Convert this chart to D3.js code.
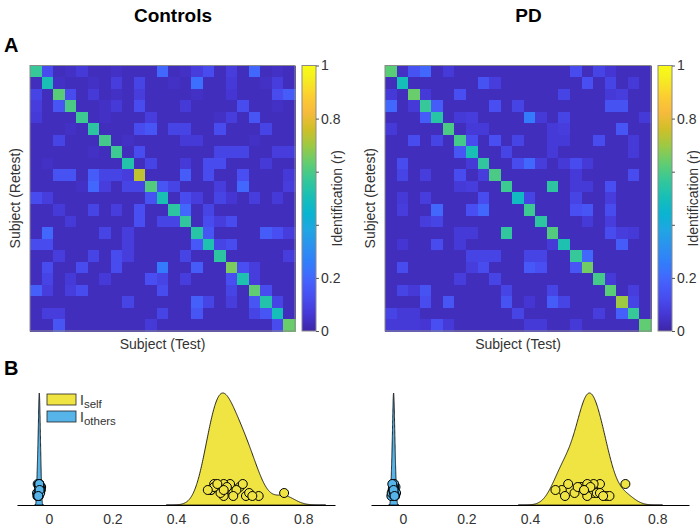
<!DOCTYPE html>
<html>
<head>
<meta charset="utf-8">
<script src="https://cdn.jsdelivr.net/npm/d3@7/dist/d3.min.js"></script>
<style>
body { margin: 0; background: #fff; }
svg text { font-family: "Liberation Sans", Arial, sans-serif; }
</style>
</head>
<body>
<div id="chart"></div>
<script>
// identification matrices, r in hundredths (rows = retest, cols = test)
var ctrlMatrix = [
  [57,12,3,4,7,3,3,4,3,3,3,20,3,4,8,12,3,8,3,20,3,4,3],
  [3,51,4,3,3,4,3,8,3,10,3,3,4,3,22,3,3,7,3,3,4,8,3],
  [10,3,62,12,3,7,3,4,3,8,3,3,3,3,4,3,3,6,3,3,3,12,17],
  [8,3,15,60,3,3,4,7,3,12,3,3,3,7,3,3,3,3,12,3,3,4,3],
  [7,3,3,3,58,3,4,3,3,3,8,3,3,3,3,3,4,8,3,15,3,3,3],
  [3,3,3,4,3,55,3,3,3,12,15,3,10,10,3,3,12,3,3,3,10,3,3],
  [3,3,10,3,3,3,59,3,4,3,3,3,3,7,7,3,3,3,3,4,3,3,3],
  [3,3,3,3,3,4,3,58,3,12,3,3,3,3,3,3,10,10,10,3,3,8,8],
  [3,4,3,3,3,3,3,3,53,3,10,3,3,7,3,12,12,3,3,3,7,3,3],
  [3,3,14,14,3,17,10,10,8,74,3,3,3,17,3,12,3,3,13,3,3,3,7],
  [3,3,3,3,4,20,8,3,10,10,61,15,10,3,3,3,8,3,20,3,3,3,8],
  [12,8,3,3,3,3,3,3,3,3,14,51,3,12,8,3,10,6,3,8,3,7,3],
  [3,3,7,3,3,10,3,8,3,13,3,3,55,20,3,10,3,3,3,3,3,3,3],
  [3,3,3,7,3,3,3,3,3,13,3,10,10,56,3,12,8,12,3,3,3,3,3],
  [3,20,3,3,3,3,10,3,8,3,3,3,3,3,54,15,3,3,3,3,17,13,8],
  [12,12,3,3,3,3,3,3,8,3,3,3,3,3,16,52,10,12,3,3,3,3,3],
  [3,3,8,3,3,10,3,12,8,3,3,3,3,10,3,3,55,3,3,3,3,3,8],
  [3,12,3,3,12,3,3,12,3,3,3,25,3,3,17,3,3,66,13,8,3,3,3],
  [3,10,3,7,3,3,7,3,3,3,13,10,3,8,3,3,3,13,52,8,3,3,3],
  [18,8,3,8,12,3,3,3,3,3,3,12,3,3,3,3,3,10,3,63,12,3,3],
  [3,3,3,3,3,3,3,3,10,3,3,3,3,3,18,10,3,8,3,15,53,10,3],
  [3,8,8,3,3,3,3,3,3,3,3,10,3,3,15,3,3,3,3,10,15,50,3],
  [3,3,15,3,3,3,3,3,3,3,7,3,3,3,3,3,3,3,3,3,3,12,64]
];

var pdMatrix = [
  [62,4,14,20,3,7,3,3,3,3,3,3,3,3,3,3,12,3,10,6,3,3,3],
  [3,50,3,3,3,3,3,3,14,8,3,3,3,3,3,3,3,13,3,10,3,7,3],
  [7,3,64,7,3,3,13,3,3,3,3,3,3,3,3,10,3,3,3,7,8,3,3],
  [20,3,7,57,17,3,3,3,3,13,3,10,3,3,3,3,3,3,3,14,14,3,3],
  [3,3,3,17,54,3,7,8,3,3,3,3,25,7,3,10,3,3,3,3,3,3,7],
  [7,3,3,3,3,60,3,7,7,3,3,3,3,3,7,8,3,3,3,3,15,3,3],
  [3,3,12,3,10,3,59,12,3,13,3,10,3,3,7,7,3,3,12,3,3,7,3],
  [3,3,3,3,3,3,15,51,3,3,10,3,3,3,7,3,3,3,3,3,3,7,3],
  [3,12,3,3,3,3,3,7,56,3,3,12,20,8,3,7,12,7,3,3,3,3,3],
  [3,10,3,8,3,3,12,3,8,60,3,3,3,3,3,3,7,3,3,3,3,12,3],
  [3,3,3,3,3,3,7,8,3,3,58,3,3,3,55,3,7,7,3,13,3,3,3],
  [3,7,3,8,3,3,3,3,12,3,3,48,10,3,3,3,10,3,3,8,3,3,3],
  [3,8,3,3,20,3,3,13,20,3,3,3,58,3,3,3,13,15,3,12,3,3,3],
  [3,3,3,8,10,3,3,3,3,3,3,3,3,55,3,3,3,7,3,8,3,3,3],
  [3,3,3,3,3,3,7,7,3,3,56,3,3,3,61,3,3,3,3,12,8,7,3],
  [3,6,3,3,12,3,7,3,3,3,3,3,3,3,7,52,3,3,3,3,17,3,3],
  [3,3,3,3,3,3,3,10,10,10,3,3,10,10,3,3,57,20,3,3,3,3,3],
  [3,12,3,3,3,3,3,8,12,3,3,3,16,13,3,3,15,65,3,3,3,3,3],
  [3,3,3,3,3,3,8,3,3,10,3,3,3,3,3,3,3,3,59,7,3,3,3],
  [3,10,7,14,3,3,3,3,3,3,10,3,3,3,10,3,3,3,3,62,3,8,3],
  [3,3,3,12,3,15,3,3,3,3,14,3,6,3,17,10,3,3,3,3,70,10,3],
  [10,7,7,3,3,3,3,3,3,3,3,10,3,3,3,3,3,3,8,3,18,57,3],
  [7,7,7,6,13,7,3,3,3,3,3,3,7,7,3,3,7,3,3,3,3,3,63]
];

// I_others per subject
var othersControls = [-0.035,-0.027,-0.031,-0.024,-0.037,-0.030,-0.028,-0.033,-0.026,-0.031,-0.030,-0.025,
                      -0.036,-0.029,-0.032,-0.030,-0.028,-0.034,-0.031,-0.027,-0.030,-0.029,-0.033];
var othersPD = [-0.030,-0.025,-0.034,-0.023,-0.029,-0.031,-0.027,-0.036,-0.028,-0.021,-0.030,-0.032,
                -0.026,-0.029,-0.035,-0.027,-0.031,-0.024,-0.030,-0.028,-0.033,-0.029,-0.026];

var groups = ["Controls", "PD"];
var cbarTicks = [0, 0.2, 0.4, 0.6, 0.8, 1];
var cbarTickLabels = ["0", "0.2", "", "", "0.8", "1"];
var densTicks = [0, 0.2, 0.4, 0.6, 0.8];

// parula (every 4th of the 64 entries)
var parulaStops = ["#3e26a8","#4537d5","#484df0","#4563fd","#327cfc","#2b91ef","#20a5e3","#08b5d0",
                   "#18bfb6","#37c897","#64cd6f","#9dc943","#d1bf27","#f8ba3d","#fccf30","#f5ef20","#f9fb15"];
var color = d3.scaleLinear()
    .domain(parulaStops.map(function (c, i) { return Math.min(1, i * 4 / 63); }))
    .range(parulaStops)
    .clamp(true);

var yellow = "#f0e442", blue = "#56b4e9", grey = "#333";

var svg = d3.select("#chart").append("svg")
    .attr("width", 700)
    .attr("height", 529);

var panels = [
    { name: groups[0], m: ctrlMatrix, others: othersControls, hx: [30, 295], cb: 302, dx: [17, 335] },
    { name: groups[1], m: pdMatrix, others: othersPD, hx: [385, 651], cb: 658, dx: [371, 689] }
];
var hy = [65.5, 331];

svg.append("text").attr("x", 4).attr("y", 52).attr("font-size", 20).attr("font-weight", "bold").text("A");
svg.append("text").attr("x", 4).attr("y", 375).attr("font-size", 20).attr("font-weight", "bold").text("B");

panels.forEach(function (p, pi) {
    var n = p.m.length;
    var idx = d3.range(n);
    var x = d3.scaleBand().domain(idx).range(p.hx);
    var y = d3.scaleBand().domain(idx).range(hy);

    svg.append("text")
        .attr("x", (p.hx[0] + p.cb + 14) / 2)
        .attr("y", 22)
        .attr("text-anchor", "middle")
        .attr("font-size", 19)
        .attr("font-weight", "bold")
        .text(p.name);

    var cells = [];
    p.m.forEach(function (row, i) {
        row.forEach(function (v, j) { cells.push({ i: i, j: j, v: v / 100 }); });
    });

    svg.append("g")
        .attr("shape-rendering", "crispEdges")
        .selectAll("rect")
        .data(cells)
        .enter()
        .append("rect")
        .attr("x", function (d) { return x(d.j); })
        .attr("y", function (d) { return y(d.i); })
        .attr("width", x.bandwidth() + 0.5)
        .attr("height", y.bandwidth() + 0.5)
        .attr("fill", function (d) { return color(d.v); });

    svg.append("rect")
        .attr("x", p.hx[0]).attr("y", hy[0])
        .attr("width", p.hx[1] - p.hx[0]).attr("height", hy[1] - hy[0])
        .attr("fill", "none").attr("stroke", "#8a8a8a").attr("stroke-width", 1);

    svg.append("text")
        .attr("transform", "translate(" + (p.hx[0] - 10) + "," + ((hy[0] + hy[1]) / 2) + ") rotate(-90)")
        .attr("text-anchor", "middle")
        .attr("font-size", 14)
        .attr("fill", grey)
        .text("Subject (Retest)");

    svg.append("text")
        .attr("x", (p.hx[0] + p.hx[1]) / 2)
        .attr("y", hy[1] + 18)
        .attr("text-anchor", "middle")
        .attr("font-size", 14)
        .attr("fill", grey)
        .text("Subject (Test)");

    // colorbar
    var cw = 14;
    var grad = svg.append("defs").append("linearGradient")
        .attr("id", "cb" + pi)
        .attr("x1", 0).attr("y1", 1).attr("x2", 0).attr("y2", 0);
    d3.range(0, 1.0001, 0.02).forEach(function (t) {
        grad.append("stop").attr("offset", t).attr("stop-color", color(t));
    });
    svg.append("rect")
        .attr("x", p.cb).attr("y", hy[0])
        .attr("width", cw).attr("height", hy[1] - hy[0])
        .attr("fill", "url(#cb" + pi + ")")
        .attr("stroke", "#8a8a8a").attr("stroke-width", 1);

    var cy = d3.scaleLinear().domain([0, 1]).range([hy[1], hy[0]]);
    var cax = svg.append("g")
        .attr("transform", "translate(" + (p.cb + cw) + ",0)")
        .call(d3.axisRight(cy)
            .tickValues(cbarTicks)
            .tickSize(3)
            .tickPadding(2)
            .tickFormat(function (d, i) { return cbarTickLabels[i]; }));
    cax.select(".domain").remove();
    cax.selectAll("line").attr("stroke", "#555");
    cax.selectAll("text").attr("font-size", 14).attr("fill", grey)
        .attr("font-family", "Liberation Sans, Arial, sans-serif");

    svg.append("text")
        .attr("transform", "translate(" + (p.cb + cw + 26) + "," + cy(0.5) + ") rotate(-90)")
        .attr("text-anchor", "middle")
        .attr("font-size", 14)
        .attr("fill", grey)
        .text("Identification (r)");

    // density panel
    var dx = d3.scaleLinear().domain([-0.1, 0.9]).range(p.dx);
    var base = 505, top = 393;
    var self = p.m.map(function (row, i) { return row[i] / 100; });

    var kde = function (vals) {
        var sd = d3.deviation(vals);
        var bw = 1.06 * sd * Math.pow(vals.length, -0.2);
        var lo = d3.min(vals) - 4 * bw, hi = d3.max(vals) + 4 * bw;
        var step = (hi - lo) / 400;
        return d3.range(lo, hi + step / 2, step).map(function (t) {
            var s = d3.sum(vals, function (v) {
                var z = (t - v) / bw;
                return Math.exp(-0.5 * z * z);
            });
            return [t, s / (vals.length * bw * Math.sqrt(2 * Math.PI))];
        });
    };

    [[p.others, blue], [self, yellow]].forEach(function (s) {
        var curve = kde(s[0]);
        var dy = d3.scaleLinear().domain([0, d3.max(curve, function (d) { return d[1]; })]).range([base, top]);
        var area = d3.area()
            .x(function (d) { return dx(d[0]); })
            .y0(base)
            .y1(function (d) { return dy(d[1]); });
        svg.append("path")
            .datum(curve)
            .attr("d", area)
            .attr("fill", s[1])
            .attr("stroke", "#111")
            .attr("stroke-width", 0.9);
    });

    var jitter = function (i) { return base - 15 + ((i * 7) % 5 - 2) * 3; };

    [[p.others, blue], [self, yellow]].forEach(function (s) {
        svg.append("g").selectAll("circle")
            .data(s[0])
            .enter()
            .append("circle")
            .attr("cx", function (d) { return dx(d); })
            .attr("cy", function (d, i) { return jitter(i); })
            .attr("r", 4.5)
            .attr("fill", s[1])
            .attr("stroke", "#000")
            .attr("stroke-width", 1);
    });

    var ax = svg.append("g")
        .attr("transform", "translate(0," + base + ")")
        .call(d3.axisBottom(dx)
            .tickValues(densTicks)
            .tickSize(0)
            .tickSizeOuter(0)
            .tickPadding(9)
            .tickFormat(function (d) { return String(d); }));
    ax.select(".domain").attr("stroke", "#000").attr("stroke-width", 1.2);
    ax.selectAll("text").attr("font-size", 14).attr("fill", grey)
        .attr("font-family", "Liberation Sans, Arial, sans-serif");

    if (pi === 0) {
        var lg = svg.append("g");
        var items = [["self", yellow], ["others", blue]];
        items.forEach(function (it, k) {
            var ly = 394 + k * 17;
            lg.append("rect").attr("x", 47).attr("y", ly).attr("width", 29).attr("height", 11)
                .attr("fill", it[1]).attr("stroke", "#222").attr("stroke-width", 0.8);
            var t = lg.append("text").attr("x", 80).attr("y", ly + 11).attr("font-size", 14).attr("fill", grey);
            t.append("tspan").text("I");
            t.append("tspan").attr("dy", 3).attr("font-size", 11.5).text(it[0]);
        });
    }
});
</script>
</body>
</html>
